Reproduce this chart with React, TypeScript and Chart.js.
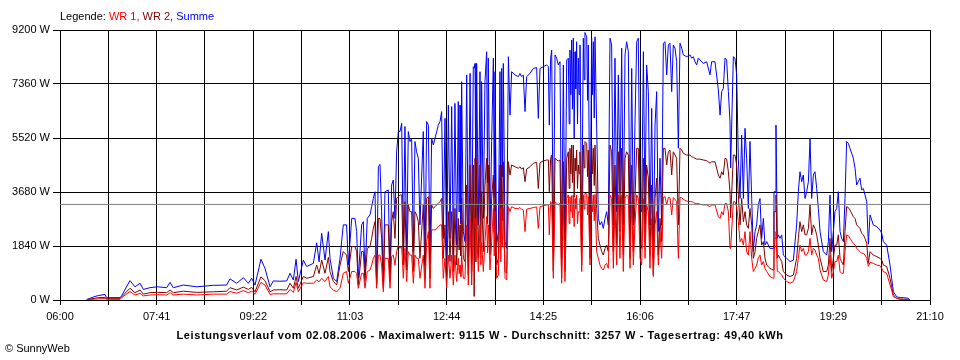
import React, { useEffect, useRef } from "react";
import { Chart, registerables } from "chart.js";

Chart.register(...registerables);

// Time of day in minutes after midnight
const times = [
  388, 396.6, 400, 407.1, 408.8, 422.8, 424.5, 433.2, 438.4, 443.7,
  447.2, 454.1, 462, 471.6, 475.1, 478.5, 489, 503, 520.4, 534.3,
  537.8, 544.8, 551.8, 557, 560.5, 564, 570.2, 574.4, 579.7, 583.1,
  590, 597.1, 600.6, 604.1, 606.9, 609.3, 614.5, 618, 625, 628.5,
  631, 633.7, 637.2, 640.7, 642.4, 645.9, 649.4, 652.9, 656.3, 659.8,
  661.6, 665.1, 668.5, 670.3, 672, 675.5, 677.3, 679, 681.4, 684.2,
  686, 687.7, 689.5, 691.2, 693, 694.7, 696.4, 698.2, 699.9, 703.4,
  705.2, 706.9, 708.6, 710.4, 712.1, 713.9, 715.6, 717.4, 719.1, 720.8,
  722.6, 724.3, 726.1, 727.8, 729.6, 731.3, 733, 734.8, 736.5, 740,
  741.8, 743.5, 745.3, 747, 748.7, 750.5, 752.2, 754, 755.7, 757.5,
  759.2, 760.9, 762.7, 764.4, 766.2, 767.9, 769.7, 771.4, 773.1, 774.9,
  776.6, 777.5, 778.4, 779.3, 780.1, 781.9, 783.6, 785.4, 787.1, 788.9, 790.6, 792.3,
  793.2, 794.1, 795, 795.8, 797.6, 799.3, 800.2, 801, 802.8, 804.5, 806.3, 807.2, 808,
  809.8, 811.5, 813.3, 814.2, 815, 816.7, 818.5, 820.2, 821.1, 822, 822.9, 823.7, 825.5,
  827.2, 829, 830.7, 832.4, 835.9, 839.4, 841.1, 842.9, 844.6, 846.4,
  848.1, 851.6, 855.1, 858.6, 860.3, 862.1, 865.6, 869, 870.8, 871.8,
  873.2, 874.3, 876, 877.8, 879.5, 881.2, 883, 884.7, 886.5, 888.2,
  890, 891.7, 892.6, 893.4, 894.3, 895.2, 896, 896.9, 897.8, 898.7, 899.5, 900.4, 901.3, 902.2, 903, 903.9, 905.7,
  907.4, 908.3, 909.1, 910.9, 911.8, 912.6, 914.4, 916.1, 917, 917.9, 918.8, 919.6, 921.3, 923.1,
  924.8, 926.6, 928.3, 930.1, 931.8, 933.5, 935.3, 937, 938.8, 940.5,
  942.3, 944, 945.7, 947.5, 949.2, 951, 952.7, 954.5, 956.2, 958,
  959.7, 961.4, 963.2, 964.9, 966.7, 968.4, 970.2, 971.9, 973.6, 975.4,
  977.1, 978.9, 980.6, 982.4, 984.1, 985.8, 987.6, 989.3, 991.1, 992.8,
  994.6, 996.3, 998, 999.8, 1001.5, 1003.3, 1005, 1006.8, 1008.5, 1010.3,
  1012, 1015.5, 1019, 1020.7, 1022.5, 1024.2, 1025.9, 1027.7, 1029.4, 1032.9,
  1036.4, 1039.9, 1041.6, 1045.1, 1048.6, 1050.4, 1052.1, 1053.8, 1055.6, 1057.3,
  1059.1, 1060.8, 1061.5, 1064.3, 1066, 1067.8, 1069.5, 1071.3, 1073, 1074.8,
  1076.5, 1078.2, 1080, 1081.7, 1083.5, 1085.2, 1087, 1088.7, 1090.4, 1092.2,
  1093.9, 1095.7, 1097.4, 1099.2, 1102.6, 1106.1, 1106.8, 1107.9, 1108.9, 1110.3,
  1111.4, 1113.1, 1114.9, 1116.6, 1120.1, 1123.6, 1127.1, 1130.5, 1132.3, 1134,
  1135.8, 1137.5, 1139.3, 1141, 1142.8, 1144.5, 1146.2, 1148, 1149.7, 1151.5,
  1153.2, 1155, 1158.4, 1161.9, 1163.7, 1165.4, 1167.2, 1168.9, 1170.6, 1172.4,
  1174.1, 1175.9, 1177.6, 1179.4, 1181.1, 1182.8, 1184.6, 1186.3, 1189.8, 1191.6,
  1193.3, 1195, 1196.8, 1198.5, 1200.3, 1202, 1203.8, 1205.5, 1207.3, 1210.7,
  1214.2, 1217.7, 1219.5, 1221.2, 1224.7, 1228.2, 1229.9, 1231.7, 1235.1, 1238.6,
  1242.1, 1247.3, 1249.1,
];

// Summe (W)
const summe = [
  20, 120, 150, 190, 80, 80, 150, 660, 450, 570,
  360, 420, 450, 420, 600, 420, 510, 450, 500, 510,
  720, 570, 760, 570, 740, 510, 1390, 1080, 450, 650,
  640, 650, 910, 680, 1390, 630, 1360, 1140, 1250, 1950,
  1300, 2270, 1360, 2330, 1420, 740, 630, 1420, 2560, 2560,
  1190, 2780, 2780, 2330, 740, 2560, 2670, 850, 2780, 2900,
  3180, 3460, 3690, 570, 4540, 4620, 3010, 510, 3690, 3750,
  740, 3920, 4090, 2780, 5050, 5740, 5740, 6020, 1650, 5910,
  1530, 5740, 5400, 5510, 1650, 5400, 5050, 4830, 2560, 5740,
  1190, 6080, 5960, 1310, 5510, 5280, 5510, 5740, 5960, 6080,
  6420, 2100, 6190, 1190, 6640, 2100, 6590, 1530, 6700, 1870,
  6760, 3000, 6640, 2600, 7440, 2330, 1990, 7670, 1420, 7720, 1650, 7950,
  7900, 8060, 3500, 8060, 2560, 7780, 3200, 7440, 2780, 7440, 8460, 4000, 8240,
  2330, 5400, 8240, 3500, 7780, 1870, 2330, 7780, 3000, 7890, 4200, 8060, 1990,
  1760, 8290, 6300, 7780, 7670, 7610, 7720, 7610, 7670, 6420,
  7610, 7720, 7890, 7920, 6190, 7890, 7950, 8010, 7950, 5960,
  8240, 8520, 1650, 8350, 8240, 8010, 8120, 1420, 8010, 1530,
  8180, 8240, 6000, 8520, 7000, 8860, 6500, 8920, 5500, 8460, 7200, 8800, 6000, 8240, 7000, 8690, 1990,
  8920, 7500, 9115, 8970, 6800, 8690, 1990, 8920, 7000, 8800, 6200, 8970, 5960, 2780,
  2560, 2670, 2440, 2780, 3010, 2560, 8920, 8690, 2560, 8240,
  3010, 7670, 3690, 8580, 2560, 8350, 8800, 8460, 1990, 7890,
  2560, 5960, 8800, 8920, 3120, 3010, 8460, 3010, 8010, 7100,
  2560, 6530, 1420, 5960, 7100, 2330, 4830, 2560, 8750, 8800,
  7670, 8690, 8750, 7100, 8690, 8580, 8120, 5170, 8750, 8580,
  8350, 8290, 8350, 8240, 8290, 8120, 8010, 8240, 8180, 8060,
  8120, 7670, 8120, 8120, 7160, 6300, 7100, 7210, 8240, 8180,
  7100, 6080, 4500, 8290, 8240, 7670, 4830, 3460, 5620, 3460,
  5850, 4830, 3120, 5400, 3460, 1650, 2330, 2560, 3240, 3460,
  2100, 2780, 1870, 1990, 1760, 1760, 3690, 3690, 5960, 2100,
  2220, 2100, 2220, 1530, 1420, 1310, 1360, 2560, 3690, 4370,
  4030, 4260, 3460, 3690, 4030, 5510, 3460, 4260, 4370, 3800,
  3120, 2330, 1650, 1530, 1990, 3580, 1650, 2330, 3010, 3120,
  3690, 2330, 2100, 1990, 3460, 5400, 5340, 5170, 4830, 4490,
  3920, 4030, 4150, 3750, 3800, 3580, 3350, 1900, 2900, 2560,
  2500, 2390, 2270, 1990, 1870, 1190, 740, 280, 110, 80,
  80, 60, 0,
];

// WR 2 (W)
const wr2 = [
  10, 60, 80, 90, 45, 45, 110, 400, 250, 340,
  200, 250, 260, 250, 340, 250, 300, 260, 280, 300,
  420, 340, 440, 360, 430, 280, 790, 660, 280, 340,
  350, 340, 570, 400, 800, 400, 800, 740, 800, 1190,
  900, 1360, 910, 1450, 970, 630, 510, 1190, 1650, 1530,
  970, 1820, 1820, 1650, 510, 1650, 1650, 630, 1760, 1820,
  2100, 2440, 2670, 510, 2780, 2780, 2100, 400, 2560, 2560,
  630, 2670, 3010, 2100, 3460, 3520, 3580, 3580, 1190, 3350,
  1020, 3240, 3010, 3010, 970, 3010, 2900, 2670, 1420, 3240,
  740, 3460, 3520, 740, 3240, 3120, 3180, 3240, 3290, 3350,
  3460, 1420, 2560, 740, 3010, 1310, 3010, 970, 3120, 1190,
  2780, 1700, 2560, 1500, 3460, 1420, 1310, 3920, 850, 4600, 970, 4600,
  120, 4830, 2200, 4710, 1420, 4600, 2000, 3690, 1650, 3920, 4830, 2600, 4600,
  1530, 3460, 4260, 2300, 4030, 1190, 1420, 4600, 1900, 4600, 2700, 4710, 970,
  910, 4710, 4260, 4600, 4540, 4490, 4540, 4460, 4510, 4030,
  4460, 4540, 4660, 4690, 3800, 4680, 4740, 4770, 4770, 3690,
  4830, 4940, 970, 4830, 4770, 4740, 4770, 740, 4710, 970,
  4830, 5050, 3800, 5170, 4300, 5280, 4000, 5280, 3500, 4830, 4400, 5110, 3800, 4600, 4300, 5050, 1190,
  5280, 4500, 5400, 5340, 4200, 5110, 1420, 5280, 4300, 5170, 3900, 5280, 3120, 2100,
  1870, 1650, 1530, 1760, 1870, 1650, 5280, 5050, 1650, 4600,
  1870, 5050, 2330, 5170, 1530, 4830, 5050, 4940, 1420, 4600,
  1650, 3460, 5170, 5170, 1990, 1760, 4830, 1990, 4600, 4150,
  1530, 3920, 850, 3460, 4150, 1530, 2780, 1990, 5170, 5170,
  4600, 5050, 5110, 4260, 5050, 4940, 4830, 2560, 5170, 5110,
  5000, 4940, 4940, 4880, 4860, 4830, 4800, 4800, 4800, 4770,
  4750, 4660, 4710, 4710, 4260, 4150, 4370, 4260, 4830, 4800,
  4370, 3690, 2800, 4940, 4940, 4600, 3580, 2560, 3460, 2670,
  3010, 2560, 2440, 3120, 2560, 1420, 1650, 2100, 2330, 2560,
  1870, 1990, 1420, 1190, 1080, 1020, 3010, 3010, 3580, 1420,
  1530, 1420, 1310, 970, 850, 800, 850, 1420, 2100, 2670,
  2330, 2560, 2220, 2220, 2440, 3240, 2220, 2560, 2440, 2220,
  1870, 1420, 970, 970, 1190, 2100, 970, 1420, 1870, 1870,
  2220, 1420, 1310, 1190, 2330, 3180, 3150, 3070, 2840, 2780,
  2560, 2500, 2440, 2270, 2220, 2100, 1930, 1250, 1650, 1530,
  1480, 1420, 1360, 1190, 1140, 740, 450, 170, 60, 30,
  30, 20, 0,
];

// WR 1 (W)
const wr1 = [
  10, 30, 40, 45, 25, 25, 80, 290, 170, 230,
  140, 170, 180, 170, 250, 170, 200, 170, 200, 200,
  290, 230, 320, 250, 300, 200, 600, 510, 190, 210,
  210, 210, 360, 260, 600, 280, 590, 570, 570, 680,
  620, 740, 630, 800, 450, 340, 280, 400, 910, 970,
  570, 970, 970, 910, 400, 910, 910, 400, 970, 1020,
  1190, 1420, 1530, 400, 1530, 1530, 1190, 280, 1420, 1420,
  400, 1480, 1530, 1190, 1650, 1870, 1760, 1820, 740, 1760,
  630, 1650, 1530, 1530, 570, 1530, 1420, 1420, 740, 1530,
  400, 1990, 2330, 400, 2390, 2390, 2390, 2440, 2500, 2560,
  2560, 740, 1420, 400, 1530, 740, 1530, 510, 1530, 630,
  1420, 900, 1190, 800, 1530, 740, 740, 2560, 510, 2780, 510, 2560,
  2600, 2780, 1300, 2330, 970, 2560, 1200, 1990, 970, 1990, 2840, 1600, 2560,
  1020, 1990, 3120, 1500, 3010, 740, 850, 3120, 1300, 3120, 1800, 3120, 740,
  680, 3180, 3010, 3180, 3120, 3120, 3150, 3090, 3070, 2330,
  3090, 3120, 3150, 3170, 2440, 3180, 3210, 3240, 3240, 2220,
  3350, 3290, 740, 3350, 3290, 3240, 3290, 570, 3240, 630,
  3460, 3580, 2600, 3520, 3000, 3560, 2800, 3580, 2500, 3460, 3100, 3580, 2600, 3010, 3000, 3460, 970,
  3580, 3100, 3640, 3610, 2900, 3520, 1190, 3600, 3000, 3580, 2700, 3600, 1650, 1420,
  1190, 1080, 1020, 1190, 1250, 1080, 3580, 3460, 1080, 3240,
  1190, 3580, 1420, 3580, 970, 3460, 3580, 3520, 1080, 3350,
  1190, 2560, 3580, 3460, 1420, 1190, 3460, 1420, 3240, 3010,
  1080, 2780, 800, 2560, 3010, 1190, 2330, 1420, 3490, 3520,
  3240, 3490, 3490, 2900, 3490, 3430, 3350, 1420, 3490, 3490,
  3430, 3370, 3350, 3350, 3330, 3290, 3290, 3290, 3260, 3240,
  3240, 3180, 3240, 3240, 2840, 2780, 3010, 2900, 3290, 3290,
  3010, 1760, 1760, 3350, 3350, 3180, 2670, 1990, 2100, 1870,
  2330, 1650, 1530, 2330, 1420, 970, 1080, 1190, 1420, 1530,
  1190, 1310, 1080, 970, 800, 740, 1530, 2100, 2330, 970,
  970, 910, 850, 740, 630, 570, 630, 970, 1420, 1870,
  1650, 1760, 1530, 1530, 1650, 2100, 1530, 1760, 1700, 1530,
  1420, 1020, 680, 630, 850, 1530, 740, 970, 1310, 1310,
  1530, 970, 910, 910, 1650, 2220, 2190, 2100, 1930, 1870,
  1760, 1700, 1650, 1590, 1590, 1530, 1420, 1150, 1280, 1250,
  1190, 1170, 1080, 970, 910, 510, 340, 110, 60, 20,
  20, 10, 0,
];

const durchschnitt = 3257;
const xTickLabels = ["06:00", "07:41", "09:22", "11:03", "12:44", "14:25", "16:06", "17:47", "19:29", "21:10"];
const yTickValues = [0, 1840, 3680, 5520, 7360, 9200];
const X_MIN = 360;
const X_MAX = 1270;

const FONT = "'Liberation Sans', Arial, sans-serif";

export default function App() {
  const ref = useRef<HTMLCanvasElement>(null);

  useEffect(() => {
    const canvas = ref.current;
    if (!canvas) return;
    const pts = (arr: number[]) => times.map((t, i) => ({ x: t, y: arr[i] }));
    const line = (color: string) => ({
      borderColor: color,
      backgroundColor: color,
      borderWidth: 1,
      pointRadius: 0,
      tension: 0,
      fill: false,
    });
    const chart = new Chart(canvas, {
      type: "line",
      data: {
        datasets: [
          { label: "Durchschnitt", data: [{ x: X_MIN, y: durchschnitt }, { x: X_MAX, y: durchschnitt }], ...line("#808080") },
          { label: "WR 1", data: pts(wr1), ...line("#ff0000") },
          { label: "WR 2", data: pts(wr2), ...line("#800000") },
          { label: "Summe", data: pts(summe), ...line("#0000ff") },
        ],
      },
      options: {
        animation: false,
        responsive: false,
        devicePixelRatio: 1,
        layout: { padding: { top: 30, right: 30, left: 0, bottom: 0 } },
        plugins: { legend: { display: false }, tooltip: { enabled: false }, title: { display: false } },
        scales: {
          x: {
            type: "linear",
            min: X_MIN,
            max: X_MAX,
            afterBuildTicks: (s: any) => {
              const n = (xTickLabels.length - 1) * 2;
              s.ticks = Array.from({ length: n + 1 }, (_, k) => ({ value: X_MIN + (k * (X_MAX - X_MIN)) / n }));
            },
            afterFit: (s: any) => {
              s.height = 60;
            },
            grid: { color: "#000000", lineWidth: 1, tickLength: 5, drawTicks: true },
            border: { color: "#000000", width: 1 },
            ticks: {
              autoSkip: false,
              maxRotation: 0,
              minRotation: 0,
              padding: 5,
              color: "#000000",
              font: { family: FONT, size: 11 },
              callback: (_v: any, i: number) => (i % 2 === 0 ? xTickLabels[i / 2] : ""),
            },
          },
          y: {
            min: 0,
            max: 9200,
            afterBuildTicks: (s: any) => {
              s.ticks = yTickValues.map((v) => ({ value: v }));
            },
            afterFit: (s: any) => {
              s.width = 60;
            },
            grid: { color: "#000000", lineWidth: 1, tickLength: 7, drawTicks: true },
            border: { color: "#000000", width: 1 },
            ticks: {
              padding: 3,
              color: "#000000",
              font: { family: FONT, size: 11 },
              callback: (v: any) => `${v} W`,
            },
          },
        },
      },
    });
    return () => chart.destroy();
  }, []);

  const textBase: React.CSSProperties = {
    position: "absolute",
    fontFamily: FONT,
    fontSize: 11,
    lineHeight: "13px",
    whiteSpace: "nowrap",
    color: "#000",
  };

  return (
    <div style={{ position: "absolute", left: 0, top: 0, width: 960, height: 360, background: "#fff" }}>
      <canvas ref={ref} width={960} height={360} style={{ position: "absolute", left: 0, top: 0, width: 960, height: 360 }} />
      <div style={{ ...textBase, left: 60, top: 10 }}>
        Legende: <span style={{ color: "#ff0000" }}>WR 1,</span> <span style={{ color: "#800000" }}>WR 2,</span>{" "}
        <span style={{ color: "#0000ff" }}>Summe</span>
      </div>
      <div style={{ ...textBase, left: 0, width: 960, top: 329, textAlign: "center", fontWeight: "bold", letterSpacing: "0.6px" }}>
        Leistungsverlauf vom 02.08.2006 - Maximalwert: 9115 W - Durchschnitt: 3257 W - Tagesertrag: 49,40 kWh
      </div>
      <div style={{ ...textBase, left: 5, top: 342 }}>© SunnyWeb</div>
    </div>
  );
}
